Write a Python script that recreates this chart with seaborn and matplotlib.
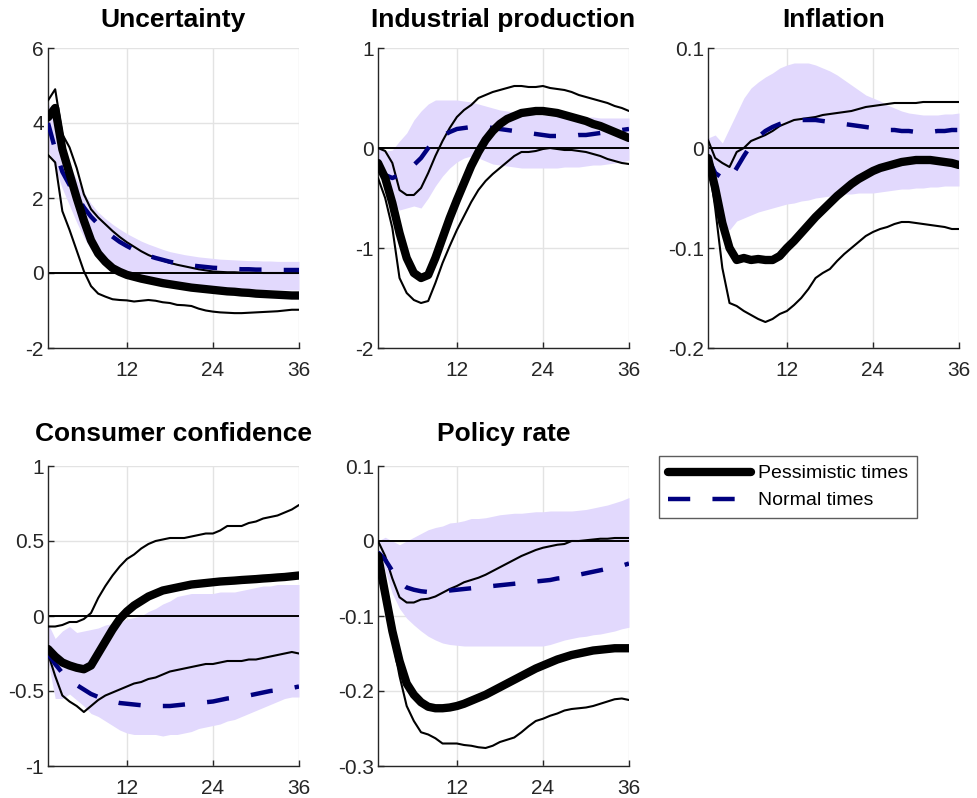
import numpy as np
import pandas as pd
import matplotlib
matplotlib.use("Agg")
import matplotlib.pyplot as plt
import seaborn as sns
from matplotlib.lines import Line2D

sns.set_theme(style="white")
plt.rcParams['font.family'] = ['Liberation Sans', 'DejaVu Sans']
plt.rcParams['axes.unicode_minus'] = False

months = list(range(1, 37))
titles = ["Uncertainty", "Industrial production", "Inflation",
          "Consumer confidence", "Policy rate"]
legend_labels = ["Pessimistic times", "Normal times"]

# ---------------- Uncertainty ----------------
unc_pess = [4.15, 4.4, 3.3, 2.65, 2.0, 1.4, 0.87, 0.52, 0.3, 0.13, 0.03, -0.05, -0.1, -0.15, -0.19, -0.23, -0.27, -0.3,
            -0.33, -0.36, -0.39, -0.41, -0.43, -0.45, -0.47, -0.49, -0.5, -0.52, -0.53, -0.55, -0.56, -0.57, -0.58, -0.59, -0.6, -0.6]
unc_pess_hi = [4.6, 4.9, 3.7, 3.35, 2.8, 2.1, 1.7, 1.48, 1.3, 1.12, 0.96, 0.82, 0.7, 0.58, 0.48, 0.4, 0.33, 0.27,
               0.22, 0.18, 0.14, 0.1, 0.07, 0.04, 0.03, 0.02, 0.02, 0.01, 0.01, 0.01, 0.0, 0.0, 0.0, 0.0, 0.0, 0.0]
unc_pess_lo = [3.15, 2.95, 1.65, 1.15, 0.6, 0.05, -0.35, -0.55, -0.63, -0.7, -0.72, -0.73, -0.76, -0.74, -0.72, -0.74, -0.78, -0.8,
               -0.85, -0.86, -0.88, -0.95, -1.0, -1.03, -1.05, -1.06, -1.07, -1.07, -1.06, -1.05, -1.04, -1.03, -1.02, -1.0, -0.98, -0.98]
unc_norm = [4.0, 3.3, 2.7, 2.35, 2.05, 1.75, 1.5, 1.3, 1.12, 0.97, 0.83, 0.72, 0.62, 0.53, 0.46, 0.4, 0.35, 0.3,
            0.26, 0.23, 0.2, 0.18, 0.16, 0.14, 0.13, 0.12, 0.11, 0.1, 0.1, 0.09, 0.09, 0.09, 0.08, 0.08, 0.08, 0.08]
unc_band_hi = [4.55, 4.0, 3.3, 2.85, 2.5, 2.15, 1.85, 1.62, 1.45, 1.3, 1.17, 1.05, 0.95, 0.85, 0.77, 0.7, 0.63, 0.57,
               0.53, 0.49, 0.46, 0.43, 0.41, 0.39, 0.37, 0.36, 0.35, 0.34, 0.33, 0.33, 0.32, 0.32, 0.31, 0.31, 0.31, 0.31]
unc_band_lo = [3.3, 2.8, 2.25, 1.8, 1.35, 0.95, 0.62, 0.38, 0.2, 0.07, -0.02, -0.08, -0.13, -0.17, -0.2, -0.23, -0.26, -0.28,
               -0.3, -0.32, -0.34, -0.35, -0.37, -0.38, -0.39, -0.4, -0.41, -0.42, -0.43, -0.43, -0.44, -0.44, -0.45, -0.45, -0.45, -0.45]

# ---------------- Industrial production ----------------
ip_pess = [-0.15, -0.3, -0.55, -0.85, -1.1, -1.25, -1.3, -1.27, -1.1, -0.9, -0.7, -0.52, -0.35, -0.18, -0.04, 0.08, 0.17, 0.24,
           0.29, 0.32, 0.35, 0.36, 0.37, 0.37, 0.36, 0.35, 0.33, 0.31, 0.29, 0.27, 0.24, 0.22, 0.19, 0.16, 0.13, 0.1]
ip_pess_hi = [0.0, -0.03, -0.15, -0.42, -0.47, -0.47, -0.4, -0.25, -0.08, 0.07, 0.2, 0.31, 0.38, 0.43, 0.5, 0.53, 0.56, 0.58,
              0.6, 0.62, 0.62, 0.61, 0.61, 0.62, 0.6, 0.59, 0.58, 0.56, 0.53, 0.51, 0.49, 0.47, 0.45, 0.42, 0.4, 0.37]
ip_pess_lo = [-0.3, -0.5, -0.8, -1.3, -1.45, -1.52, -1.55, -1.53, -1.35, -1.15, -0.98, -0.82, -0.68, -0.54, -0.42, -0.33, -0.26, -0.2,
              -0.14, -0.08, -0.04, -0.04, -0.03, -0.01, 0.0, -0.01, -0.02, -0.02, -0.03, -0.04, -0.06, -0.08, -0.11, -0.13, -0.15, -0.16]
ip_norm = [-0.2, -0.27, -0.3, -0.27, -0.22, -0.17, -0.1, 0.0, 0.07, 0.12, 0.16, 0.19, 0.2, 0.21, 0.21, 0.21, 0.2, 0.19,
           0.18, 0.17, 0.16, 0.15, 0.14, 0.13, 0.12, 0.12, 0.12, 0.12, 0.13, 0.13, 0.14, 0.15, 0.16, 0.17, 0.18, 0.19]
ip_band_hi = [0.0, -0.03, -0.02, 0.07, 0.15, 0.28, 0.37, 0.44, 0.48, 0.48, 0.48, 0.48, 0.47, 0.46, 0.44, 0.42, 0.4, 0.38,
              0.37, 0.36, 0.35, 0.34, 0.33, 0.33, 0.32, 0.32, 0.32, 0.31, 0.31, 0.31, 0.31, 0.3, 0.3, 0.3, 0.3, 0.3]
ip_band_lo = [-0.1, -0.3, -0.55, -0.62, -0.6, -0.58, -0.6, -0.5, -0.38, -0.28, -0.2, -0.14, -0.1, -0.08, -0.1, -0.13, -0.16, -0.17,
              -0.18, -0.19, -0.2, -0.2, -0.2, -0.2, -0.2, -0.2, -0.19, -0.19, -0.19, -0.18, -0.17, -0.17, -0.16, -0.15, -0.14, -0.12]

# ---------------- Inflation ----------------
inf_pess = [-0.01, -0.04, -0.075, -0.1, -0.112, -0.11, -0.112, -0.111, -0.112, -0.112, -0.108, -0.1, -0.093, -0.085, -0.077, -0.069, -0.062, -0.055,
            -0.048, -0.042, -0.036, -0.031, -0.027, -0.023, -0.02, -0.018, -0.016, -0.014, -0.013, -0.012, -0.012, -0.012, -0.013, -0.014, -0.015, -0.017]
inf_pess_hi = [0.008, -0.01, -0.015, -0.019, -0.004, 0.0, 0.007, 0.01, 0.013, 0.017, 0.022, 0.025, 0.028, 0.029, 0.03, 0.031, 0.033, 0.034,
               0.035, 0.036, 0.037, 0.039, 0.041, 0.042, 0.043, 0.044, 0.045, 0.045, 0.045, 0.045, 0.046, 0.046, 0.046, 0.046, 0.046, 0.046]
inf_pess_lo = [-0.01, -0.06, -0.12, -0.155, -0.158, -0.163, -0.167, -0.171, -0.174, -0.171, -0.166, -0.163, -0.157, -0.15, -0.141, -0.13, -0.125, -0.121,
               -0.113, -0.106, -0.1, -0.094, -0.088, -0.084, -0.081, -0.079, -0.076, -0.074, -0.074, -0.075, -0.076, -0.077, -0.078, -0.079, -0.081, -0.081]
inf_norm = [-0.01, -0.025, -0.03, -0.032, -0.02, -0.008, 0.003, 0.011, 0.017, 0.021, 0.024, 0.026, 0.027, 0.028, 0.028, 0.028, 0.027, 0.026,
            0.025, 0.024, 0.023, 0.022, 0.021, 0.02, 0.019, 0.018, 0.018, 0.017, 0.017, 0.016, 0.016, 0.016, 0.017, 0.017, 0.018, 0.018]
inf_band_hi = [0.01, 0.013, 0.005, 0.02, 0.035, 0.05, 0.06, 0.066, 0.071, 0.075, 0.08, 0.083, 0.085, 0.085, 0.085, 0.083, 0.08, 0.077,
               0.073, 0.068, 0.063, 0.058, 0.053, 0.05, 0.047, 0.043, 0.04, 0.037, 0.035, 0.034, 0.033, 0.033, 0.033, 0.034, 0.034, 0.035]
inf_band_lo = [-0.01, -0.04, -0.075, -0.082, -0.073, -0.07, -0.067, -0.064, -0.062, -0.06, -0.058, -0.056, -0.055, -0.053, -0.052, -0.05, -0.049, -0.048,
               -0.047, -0.046, -0.046, -0.045, -0.045, -0.045, -0.044, -0.043, -0.042, -0.041, -0.041, -0.04, -0.04, -0.039, -0.039, -0.038, -0.038, -0.038]

# ---------------- Consumer confidence ----------------
cc_pess = [-0.22, -0.27, -0.31, -0.33, -0.345, -0.355, -0.33, -0.25, -0.17, -0.09, -0.02, 0.03, 0.07, 0.1, 0.13, 0.15, 0.17, 0.18,
           0.19, 0.2, 0.21, 0.215, 0.22, 0.225, 0.23, 0.233, 0.236, 0.24, 0.243, 0.246, 0.25, 0.253, 0.257, 0.26, 0.265, 0.27]
cc_pess_hi = [-0.07, -0.07, -0.06, -0.04, -0.04, -0.02, 0.02, 0.12, 0.2, 0.27, 0.33, 0.38, 0.41, 0.45, 0.48, 0.5, 0.51, 0.52,
              0.52, 0.52, 0.53, 0.54, 0.55, 0.55, 0.57, 0.6, 0.6, 0.6, 0.62, 0.63, 0.65, 0.66, 0.67, 0.69, 0.71, 0.74]
cc_pess_lo = [-0.25, -0.4, -0.53, -0.57, -0.6, -0.64, -0.6, -0.56, -0.53, -0.51, -0.49, -0.47, -0.45, -0.44, -0.42, -0.41, -0.39, -0.37,
              -0.36, -0.35, -0.34, -0.33, -0.32, -0.32, -0.31, -0.3, -0.3, -0.3, -0.29, -0.29, -0.28, -0.27, -0.26, -0.25, -0.24, -0.25]
cc_norm = [-0.25, -0.32, -0.38, -0.42, -0.46, -0.49, -0.52, -0.54, -0.56, -0.57, -0.58, -0.585, -0.59, -0.595, -0.6, -0.6, -0.6, -0.6,
           -0.595, -0.59, -0.585, -0.58, -0.575, -0.57, -0.56, -0.55, -0.545, -0.54, -0.53, -0.52, -0.51, -0.5, -0.495, -0.49, -0.48, -0.47]
cc_band_hi = [-0.05, -0.15, -0.1, -0.07, -0.11, -0.1, -0.09, -0.08, -0.06, -0.05, -0.04, -0.02, -0.01, 0.0, 0.03, 0.05, 0.08, 0.1,
              0.13, 0.14, 0.15, 0.15, 0.15, 0.15, 0.16, 0.16, 0.16, 0.17, 0.18, 0.19, 0.2, 0.2, 0.21, 0.21, 0.21, 0.21]
cc_band_lo = [-0.3, -0.55, -0.55, -0.52, -0.56, -0.6, -0.65, -0.67, -0.7, -0.73, -0.76, -0.78, -0.79, -0.79, -0.79, -0.79, -0.8, -0.79,
              -0.79, -0.78, -0.77, -0.75, -0.74, -0.73, -0.72, -0.7, -0.69, -0.67, -0.65, -0.63, -0.61, -0.59, -0.57, -0.55, -0.54, -0.54]

# ---------------- Policy rate ----------------
pr_pess = [-0.02, -0.07, -0.12, -0.16, -0.19, -0.205, -0.215, -0.221, -0.223, -0.223, -0.222, -0.22, -0.217, -0.213, -0.209, -0.205, -0.2, -0.195,
           -0.19, -0.185, -0.18, -0.175, -0.17, -0.166, -0.162, -0.158, -0.155, -0.152, -0.15, -0.148, -0.146, -0.145, -0.144, -0.143, -0.143, -0.143]
pr_pess_hi = [0.0, -0.02, -0.05, -0.075, -0.082, -0.082, -0.078, -0.077, -0.074, -0.069, -0.064, -0.06, -0.055, -0.052, -0.049, -0.045, -0.04, -0.035,
              -0.03, -0.025, -0.02, -0.016, -0.012, -0.009, -0.007, -0.005, -0.004, 0.0, 0.0, 0.001, 0.002, 0.003, 0.003, 0.004, 0.004, 0.004]
pr_pess_lo = [-0.02, -0.07, -0.13, -0.18, -0.22, -0.24, -0.255, -0.258, -0.263, -0.27, -0.27, -0.27, -0.272, -0.273, -0.275, -0.276, -0.273, -0.268,
              -0.265, -0.262, -0.255, -0.247, -0.24, -0.237, -0.233, -0.23, -0.226, -0.224, -0.223, -0.222, -0.22, -0.217, -0.214, -0.211, -0.21, -0.212]
pr_norm = [-0.015, -0.025, -0.04, -0.055, -0.062, -0.065, -0.067, -0.068, -0.068, -0.067, -0.066, -0.065, -0.064, -0.063, -0.062, -0.061, -0.06, -0.059,
           -0.058, -0.057, -0.056, -0.055, -0.054, -0.053, -0.052, -0.05, -0.049, -0.047, -0.045, -0.043, -0.041, -0.039, -0.037, -0.035, -0.033, -0.03]
pr_band_hi = [0.0, 0.005, 0.0, -0.005, 0.0, 0.005, 0.01, 0.015, 0.018, 0.02, 0.024, 0.025, 0.027, 0.03, 0.03, 0.031, 0.033, 0.035,
              0.036, 0.037, 0.037, 0.038, 0.039, 0.039, 0.04, 0.04, 0.04, 0.04, 0.041, 0.042, 0.044, 0.046, 0.048, 0.051, 0.054, 0.058]
pr_band_lo = [0.0, -0.04, -0.07, -0.09, -0.103, -0.112, -0.12, -0.127, -0.132, -0.136, -0.138, -0.139, -0.14, -0.14, -0.14, -0.14, -0.14, -0.14,
              -0.14, -0.14, -0.14, -0.14, -0.14, -0.14, -0.138, -0.135, -0.132, -0.13, -0.128, -0.127, -0.125, -0.124, -0.122, -0.12, -0.117, -0.115]

panels = [
    (unc_pess, unc_pess_hi, unc_pess_lo, unc_norm, unc_band_hi, unc_band_lo, (-2, 6), [-2, 0, 2, 4, 6], ["-2", "0", "2", "4", "6"]),
    (ip_pess, ip_pess_hi, ip_pess_lo, ip_norm, ip_band_hi, ip_band_lo, (-2, 1), [-2, -1, 0, 1], ["-2", "-1", "0", "1"]),
    (inf_pess, inf_pess_hi, inf_pess_lo, inf_norm, inf_band_hi, inf_band_lo, (-0.2, 0.1), [-0.2, -0.1, 0, 0.1], ["-0.2", "-0.1", "0", "0.1"]),
    (cc_pess, cc_pess_hi, cc_pess_lo, cc_norm, cc_band_hi, cc_band_lo, (-1, 1), [-1, -0.5, 0, 0.5, 1], ["-1", "-0.5", "0", "0.5", "1"]),
    (pr_pess, pr_pess_hi, pr_pess_lo, pr_norm, pr_band_hi, pr_band_lo, (-0.3, 0.1), [-0.3, -0.2, -0.1, 0, 0.1], ["-0.3", "-0.2", "-0.1", "0", "0.1"]),
]

W, H = 978, 798
fig = plt.figure(figsize=(W / 100, H / 100), dpi=100)
lefts = [48, 378, 708]
tops = [48, 466]
title_pads = [15.0, 18.0]
aw, ah = 251, 300

band_color = "#E2D9FD"
navy = "#00007F"
text_color = "#262626"
DASH = [5.0, 5.0]
LW_NORM = 3.2
LW_PESS = 6.0

for i, (pess, phi, plo, norm, bhi, blo, ylim, yt, ytl) in enumerate(panels):
    r, c = divmod(i, 3)
    ax = fig.add_axes([lefts[c] / W, (H - tops[r] - ah) / H, aw / W, ah / H])
    ax.fill_between(months, blo, bhi, color=band_color, linewidth=0, zorder=1)
    ax.axhline(0, color="black", linewidth=1.4, zorder=2)
    sns.lineplot(x=months, y=phi, ax=ax, color="black", linewidth=1.5, zorder=3)
    sns.lineplot(x=months, y=plo, ax=ax, color="black", linewidth=1.5, zorder=3)
    sns.lineplot(x=months, y=norm, ax=ax, color=navy, linewidth=LW_NORM, zorder=4)
    ax.lines[-1].set_dashes(DASH)
    sns.lineplot(x=months, y=pess, ax=ax, color="black", linewidth=LW_PESS, zorder=5)
    ax.set_xlim(1, 36)
    ax.set_ylim(*ylim)
    ax.set_xticks([12, 24, 36])
    ax.set_xticklabels(["12", "24", "36"])
    ax.set_yticks(yt)
    ax.set_yticklabels(ytl)
    ax.grid(True, color="#E3E3E3", linewidth=1.0, zorder=0)
    ax.set_axisbelow(True)
    for s in ["top", "right"]:
        ax.spines[s].set_visible(False)
    for s in ["left", "bottom"]:
        ax.spines[s].set_color(text_color)
        ax.spines[s].set_linewidth(1.0)
    ax.tick_params(direction="in", length=4, width=1.0, colors=text_color,
                   labelsize=15, left=True, bottom=True)
    ax.tick_params(axis="x", pad=9)
    ax.tick_params(axis="y", pad=3)
    ax.set_title(titles[i], fontsize=19, fontweight="bold", pad=title_pads[r], color="black")
    ax.set_xlabel("")
    ax.set_ylabel("")

handles = [Line2D([0], [0], color="black", linewidth=LW_PESS),
           Line2D([0], [0], color=navy, linewidth=LW_NORM, dashes=DASH)]
leg = fig.legend(handles, legend_labels, loc="upper left",
                 bbox_to_anchor=(659 / W, (H - 456) / H), frameon=True,
                 fontsize=14, fancybox=False, borderpad=0.45, handlelength=4.3,
                 labelspacing=0.48, handletextpad=0.36, borderaxespad=0)
leg.get_frame().set_edgecolor("#333333")
leg.get_frame().set_linewidth(1.0)
for t in leg.get_texts():
    t.set_color("black")

fig.savefig("out.png", dpi=100)
